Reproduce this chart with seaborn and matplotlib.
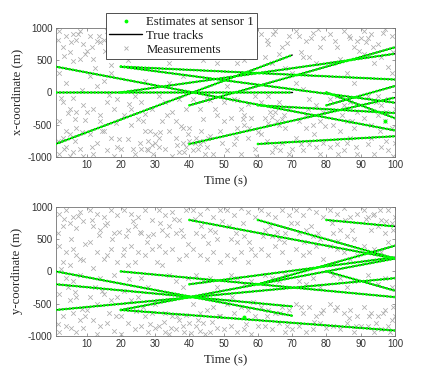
import numpy as np
import pandas as pd
import matplotlib
matplotlib.use("Agg")
import matplotlib.pyplot as plt
from matplotlib.lines import Line2D
import seaborn as sns

# ---------------- data ----------------
track_birth = [1, 1, 1, 20, 20, 20, 40, 40, 60, 60, 80, 80]
track_death = [70, 100, 70, 100, 100, 100, 100, 100, 100, 100, 100, 100]
x_start = [0, 400, -800, 400, 400, 0, -800, -200, -800, -200, 0, -200]
x_end = [0, -590, 580, -160, 200, 600, -80, 700, -680, -320, -400, 100]
y_start = [0, -600, -200, -600, -600, 0, -200, 800, -200, 800, 0, 800]
y_end = [-690, -105, -545, -920, 200, -400, 220, 200, 400, 200, -300, 700]

# a few stray estimates
stray_t_x = [97]
stray_x = [-440]
stray_t_y = [56]
stray_y = [-705]

# measurements (time, x-coordinate)
meas_t_x = [2, 3, 4, 5, 6, 7, 8, 9, 2, 4, 6, 8, 3, 5, 7, 9, 6, 2, 4, 5, 3, 7, 8, 2, 5, 6, 9, 4, 10, 10,
            11, 12, 13, 14, 15, 16, 18, 19, 11, 13, 15, 17, 19, 12, 14, 16, 18, 11, 13, 15, 17, 19, 12, 16, 18, 14, 20, 17,
            21, 22, 23, 24, 26, 28, 29, 22, 25, 27, 24, 26, 29, 21, 23, 25, 27, 28, 29, 30, 31, 28, 22, 24, 26, 30, 23, 27,
            31, 33, 35, 37, 39, 32, 34, 36, 38, 31, 33, 35, 37, 39, 32, 34, 36, 38, 39, 40, 37, 35, 33, 31, 36, 38, 34,
            41, 43, 45, 47, 49, 42, 44, 46, 48, 41, 43, 45, 46, 48, 50, 42, 43, 44, 45, 41, 47, 49, 46, 44, 40, 50,
            51, 53, 55, 57, 59, 52, 54, 56, 58, 51, 53, 55, 57, 59, 52, 54, 56, 58, 60, 51, 53, 55, 57, 59, 56, 54,
            61, 63, 65, 67, 69, 62, 64, 66, 68, 61, 63, 65, 67, 69, 62, 63, 64, 66, 68, 61, 65, 67, 69, 70, 64, 66,
            71, 72, 74, 76, 78, 79, 73, 75, 77, 71, 73, 75, 77, 79, 72, 74, 76, 78, 71, 73, 75, 77, 79, 78, 74, 70,
            81, 83, 85, 87, 88, 89, 90, 82, 84, 86, 88, 81, 83, 85, 87, 89, 82, 84, 86, 88, 81, 83, 85, 87, 89, 86,
            91, 92, 93, 95, 97, 99, 91, 94, 96, 98, 92, 95, 96, 98, 100, 91, 93, 95, 97, 99, 92, 94, 96, 98, 100, 93, 99,
            1.5, 3.5, 5.5, 7.5, 9.5, 2.5, 4.5, 6.5, 8.5, 1.5, 3.5, 6.5, 8.5, 9.5,
            11.5, 13.5, 15.5, 17.5, 12.5, 16.5, 14.5, 18.5, 11.5, 19.5,
            21.5, 23.5, 25.5, 27.5, 22.5, 26.5, 28.5, 29.5, 31.5, 27.5, 25.5, 23.5,
            32.5, 34.5, 36.5, 38.5, 33.5, 37.5, 39.5, 36.5, 38.5, 41.5, 42.5, 44.5, 43.5,
            42.5, 46.5, 48.5, 47.5, 49.5, 45.5,
            52.5, 54.5, 58.5, 55.5, 57.5, 53.5, 59.5,
            62.5, 64.5, 68.5, 63.5, 65.5, 67.5, 66.5, 62.5,
            72.5, 75.5, 77.5, 74.5, 76.5, 79.5, 72.5,
            82.5, 86.5, 89.5, 91.5, 84.5, 87.5, 83.5, 88.5,
            93.5, 96.5, 99.5, 94.5, 97.5, 95.5, 97.5, 99.5]
meas_x = [950, 700, 880, 620, 900, 820, 960, 750, 300, 150, 480, 520, -150, -250, -300, -200, -80, -450, -600, -650,
          -700, -550, -880, -950, -980, -920, -980, -850, -300, 650,
          880, 520, 800, 780, 820, 950, 700, 900, 250, 100, 180, 300, -100, -250, -350, -150, -250, -650, -780, -600,
          -700, -850, -950, -900, -980, -450, -880, 420,
          950, 880, 920, 650, 800, 950, 700, 500, 600, 180, -50, -150, -250, -350, -500, -420, -600, -750, -820, -780,
          -850, -900, -720, -950, -880, -650, -250, -330,
          920, 800, 960, 700, 880, 550, 450, 620, 250, -50, -150, -300, -100, -250, -450, -600, -700, -780, -850, -750,
          -920, -980, -880, -700, -450, -550, 150,
          920, 830, 950, 800, 900, 600, 500, 650, 450, -100, -250, -50, -120, -350, -450, -700, -800, -750, -850, -900,
          -950, -600, -680, -420, -550, -150,
          850, 950, 700, 880, 820, 650, 450, 500, 550, 100, -100, -250, -180, -50, -400, -550, -500, -400, -620, -900,
          -800, -950, -700, -880, -350, -120,
          900, 750, 950, 700, 880, 550, 450, 600, 380, -150, -50, -300, -420, -250, -400, -480, -380, -500, -550, -650,
          -850, -780, -950, -880, -920, -150,
          950, 880, 800, 920, 700, 850, 550, 550, 450, 150, 50, -100, -200, -300, -450, -550, -500, -450, -700, -900,
          -800, -850, -780, -950, -350, 300,
          900, 700, 950, 850, 700, 800, 850, 450, 520, 300, 150, -100, -50, -200, -150, -300, -500, -600, -450, -550,
          -850, -800, -900, -700, -950, -780,
          950, 850, 900, 750, 980, 880, 600, 450, 550, 400, -50, -50, -200, -100, -250, -400, -500, -350, -450, -550,
          -800, -950, -850, -900, -780, -700, 300,
          820, 560, 790, 910, 600, -80, -320, -420, -620, -760, -880, -760, 40, -430,
          700, 870, 640, 860, 380, -40, -600, -480, -850, -720,
          780, 720, 950, 560, -180, -450, -600, -950, -620, -880, -780, -880,
          920, 760, 880, 600, -350, -520, -650, -820, -920, -780, -880, -960, -600,
          760, 880, 700, -250, -780, -700,
          820, 600, 700, -420, -550, -700, -980,
          820, 900, 760, -300, -450, -350, -900, -750,
          620, 850, 980, -250, -650, -520, -800,
          800, 880, 650, 780, -350, -450, -950, -850,
          700, 920, 620, -150, -300, -600, -750, -980]

# measurements (time, y-coordinate)
meas_t_y = [2, 4, 6, 8, 3, 5, 7, 9, 2, 4, 6, 8, 3, 5, 7, 9, 4, 6, 8, 2, 5, 7, 3, 6, 8, 4, 2, 7, 9, 10,
            11, 13, 15, 17, 19, 12, 14, 16, 18, 11, 13, 15, 16, 17, 19, 12, 14, 18, 11, 13, 15, 17, 19, 12, 14, 16, 18, 20, 13,
            21, 23, 25, 27, 29, 22, 24, 26, 28, 21, 23, 25, 27, 29, 22, 24, 26, 28, 21, 23, 25, 27, 29, 22, 24, 26, 28, 30, 20,
            31, 33, 35, 37, 39, 32, 34, 36, 38, 31, 33, 35, 37, 39, 32, 34, 36, 38, 30, 33, 35, 37, 39, 31, 33, 36, 38, 40, 34,
            41, 43, 45, 47, 49, 42, 44, 46, 48, 41, 43, 45, 47, 49, 42, 44, 46, 48, 41, 43, 45, 47, 49, 42, 43, 44, 46, 48, 50,
            51, 53, 55, 57, 59, 52, 54, 56, 58, 51, 53, 55, 57, 59, 52, 54, 56, 58, 51, 53, 55, 57, 59, 52, 54, 56, 58, 60,
            61, 63, 65, 67, 69, 62, 64, 66, 68, 61, 63, 65, 67, 69, 62, 64, 66, 68, 61, 63, 65, 67, 69, 62, 64, 66, 68, 70,
            71, 73, 75, 77, 79, 72, 74, 76, 78, 71, 73, 75, 77, 79, 72, 74, 76, 78, 71, 73, 75, 77, 79, 72, 74, 76, 78, 80,
            81, 83, 85, 87, 89, 82, 84, 86, 88, 81, 83, 85, 87, 89, 82, 84, 86, 88, 81, 83, 85, 87, 89, 82, 84, 86, 88, 90,
            91, 92, 94, 96, 98, 100, 93, 95, 97, 99, 91, 94, 96, 98, 92, 95, 97, 99, 91, 93, 95, 97, 99, 92, 94, 96, 98, 100,
            1.5, 3.5, 5.5, 7.5, 9.5, 2.5, 4.5, 6.5, 8.5, 1.5, 5.5, 9.5,
            11.5, 13.5, 15.5, 17.5, 19.5, 12.5, 14.5, 16.5, 18.5, 20.5,
            21.5, 23.5, 25.5, 27.5, 29.5, 22.5, 26.5, 24.5, 28.5, 30.5,
            31.5, 33.5, 35.5, 37.5, 39.5, 32.5, 34.5, 36.5, 38.5, 40.5, 39.5,
            41.5, 43.5, 45.5, 47.5, 49.5, 42.5, 44.5, 46.5, 48.5,
            51.5, 53.5, 55.5, 57.5, 52.5, 56.5, 58.5,
            61.5, 63.5, 65.5, 67.5, 69.5, 62.5, 66.5, 68.5,
            71.5, 73.5, 75.5, 77.5, 72.5, 76.5, 78.5,
            81.5, 83.5, 85.5, 87.5, 82.5, 86.5, 88.5,
            91.5, 93.5, 95.5, 97.5, 99.5, 92.5, 94.5, 96.5, 98.5, 99.5]
meas_y = [900, 950, 850, 920, 700, 750, 680, 780, 400, 300, 350, 200, 150, 100, 250, 180, -100, -150, -50, -350,
          -450, -400, -700, -650, -750, -850, -950, -950, -880, -600,
          950, 900, 850, 950, 880, 700, 650, 750, 600, 450, 300, 200, 250, 350, 150, 50, -100, -50, -400, -500,
          -350, -450, -400, -750, -850, -800, -920, -980, -980,
          950, 900, 850, 950, 800, 650, 700, 600, 550, 350, 400, 300, 250, 350, 100, 150, -100, -250, -300, -450,
          -400, -700, -650, -800, -900, -850, -950, -880, -700,
          950, 880, 920, 800, 950, 650, 700, 600, 550, 400, 300, 350, 200, 250, 100, -50, -150, -250, -500, -650,
          -700, -750, -680, -850, -950, -900, -850, -800, -980,
          950, 900, 980, 850, 950, 600, 550, 650, 500, 350, 250, 200, 300, 150, -50, -150, -100, -250, -500, -650,
          -600, -550, -700, -850, -920, -800, -950, -880, -900,
          950, 880, 980, 920, 850, 500, 450, 550, 350, 250, 200, 300, 150, 250, -50, -100, -200, -150, -500, -650,
          -550, -600, -700, -850, -950, -900, -980, -850,
          950, 900, 850, 950, 880, 650, 550, 500, 600, 350, 250, 400, 300, 150, -50, -100, -150, -50, -550, -600,
          -650, -550, -600, -850, -900, -800, -950, -900,
          950, 880, 980, 920, 850, 600, 650, 550, 500, 350, 250, 300, 400, 200, -150, -200, -100, -250, -500, -650,
          -550, -700, -600, -850, -950, -900, -800, -880,
          950, 900, 980, 850, 900, 600, 650, 550, 500, 400, 350, 300, 200, 250, -50, -100, -250, -150, -500, -550,
          -650, -600, -700, -850, -900, -800, -950, -850,
          950, 850, 900, 800, 950, 850, 650, 700, 600, 750, 400, 350, 300, 450, -50, -200, -100, -250, -550, -650,
          -700, -600, -750, -850, -950, -900, -850, -700,
          600, 820, 500, 860, 420, 40, -250, -320, -580, -820, -880, -700,
          800, 560, 720, 500, 620, -250, -300, -650, -700, 250,
          550, 780, 620, 450, 580, -120, -550, -620, -820, 150,
          750, 560, 820, 650, 420, -780, -880, -700, -950, -960, -100,
          820, 700, 440, 620, 780, -750, -980, -780, -700,
          700, 600, 750, 450, -400, -820, -480,
          550, 700, 620, 450, 750, -700, -650, -850,
          750, 450, 700, 600, -550, -780, -650,
          750, 480, 800, 650, -600, -720, -850,
          820, 880, 950, 780, 650, -700, -800, -650, -950, -550]

x_ticks = [10, 20, 30, 40, 50, 60, 70, 80, 90, 100]
y_ticks = [-1000, -500, 0, 500, 1000]
legend_labels = ["Estimates at sensor 1", "True tracks", "Measurements"]

# ---------------- tables ----------------
rows = []
for i in range(len(track_birth)):
    rows.append(dict(track=i, t=track_birth[i], x=x_start[i], y=y_start[i]))
    rows.append(dict(track=i, t=track_death[i], x=x_end[i], y=y_end[i]))
tracks = pd.DataFrame(rows)
meas_xdf = pd.DataFrame(dict(t=meas_t_x, v=meas_x))
meas_ydf = pd.DataFrame(dict(t=meas_t_y, v=meas_y))

# ---------------- style ----------------
sns.set_theme(style="white")
plt.rcParams["font.family"] = ["Liberation Sans", "DejaVu Sans"]
SERIF = ["Liberation Serif", "DejaVu Serif"]
GREEN = "#00ff00"
GRAY = "0.68"
FRAME = "0.45"

fig = plt.figure(figsize=(4.36, 3.78), dpi=100)
ax1 = fig.add_axes([0.128, 0.585, 0.778, 0.341])
ax2 = fig.add_axes([0.128, 0.112, 0.778, 0.340])

panels = [(ax1, "x", meas_xdf, stray_t_x, stray_x, "x-coordinate (m)"),
          (ax2, "y", meas_ydf, stray_t_y, stray_y, "y-coordinate (m)")]

for ax, coord, mdf, st, sv, ylab in panels:
    sns.scatterplot(data=mdf, x="t", y="v", ax=ax, marker="x", color=GRAY,
                    s=11, linewidth=0.55, zorder=1, legend=False)
    sns.lineplot(data=tracks, x="t", y=coord, units="track", estimator=None,
                 ax=ax, color="black", lw=1.0, zorder=2, legend=False, sort=False)
    sns.lineplot(data=tracks, x="t", y=coord, units="track", estimator=None,
                 ax=ax, color=GREEN, lw=2.0, linestyle=(0, (0.05, 1.2)),
                 dash_capstyle="round", zorder=3, legend=False, sort=False)
    sns.scatterplot(x=st, y=sv, ax=ax, color=GREEN, s=8, linewidth=0, zorder=3, legend=False)

    ax.set_xlim(1, 100)
    ax.set_ylim(-1000, 1000)
    ax.set_xticks(x_ticks)
    ax.set_yticks(y_ticks)
    ax.set_xticklabels([str(v) for v in x_ticks])
    ax.set_yticklabels([str(v) for v in y_ticks])
    ax.tick_params(direction="in", length=2.5, width=0.5, colors=FRAME,
                   labelcolor="0.2", labelsize=7, pad=2.5,
                   top=True, right=True, bottom=True, left=True)
    for sp in ax.spines.values():
        sp.set_color(FRAME)
        sp.set_linewidth(0.6)
        sp.set_visible(True)
    ax.set_xlabel("Time (s)", family=SERIF, fontsize=9.2, color="0.15", labelpad=3.5)
    ax.set_ylabel(ylab, family=SERIF, fontsize=9.2, color="0.15", labelpad=3)
    ax.set_facecolor("white")

handles = [Line2D([], [], color=GREEN, marker=".", markersize=3.5, linestyle="none"),
           Line2D([], [], color="black", lw=1.0),
           Line2D([], [], color=GRAY, marker="x", markersize=3.2, markeredgewidth=0.6, linestyle="none")]
leg = fig.legend(handles, legend_labels, loc="upper left", bbox_to_anchor=(0.243, 0.966),
                 prop={"family": SERIF, "size": 9.2}, frameon=True, fancybox=False,
                 edgecolor="0.2", framealpha=1, borderpad=0.25, labelspacing=0.15,
                 handlelength=2.6, handletextpad=0.3, borderaxespad=0)
leg.get_frame().set_linewidth(0.6)
for t in leg.get_texts():
    t.set_color("0.1")

fig.savefig("out.png", dpi=100)
